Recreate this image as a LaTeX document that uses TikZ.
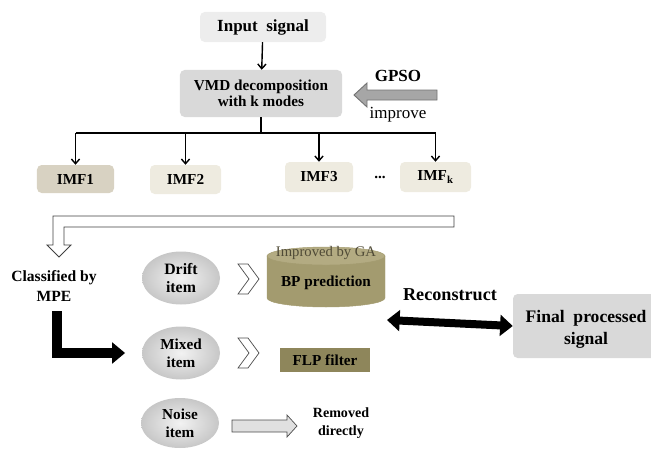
\documentclass[tikz,border=0pt]{standalone}
\usepackage{fontspec}
\setmainfont{Liberation Serif}
\usetikzlibrary{shapes.geometric,arrows.meta,positioning}
\definecolor{inputgray}{HTML}{EDEDED}
\definecolor{boxgray}{HTML}{D9D9D9}
\definecolor{imfdark}{HTML}{D8D2C2}
\definecolor{imflight}{HTML}{EEEBE0}
\definecolor{olive}{HTML}{A39B6F}
\definecolor{olivetop}{HTML}{B3AB82}
\definecolor{olivedark}{HTML}{8E865B}
\definecolor{gatext}{HTML}{4F4A36}
\definecolor{arrgray}{HTML}{A6A6A6}
\newcommand{\fs}[1]{\fontsize{#1}{#1}\selectfont}
\tikzstyle{box}=[rounded corners=4pt,align=center,inner sep=0pt,font=\bfseries\fs{13}]
\tikzstyle{item}=[ellipse,inner sep=0pt,align=center,minimum width=2.34cm,minimum height=1.59cm,
  inner color=white!95!black,outer color=black!22,font=\bfseries\fs{13}]
\tikzstyle{lbl}=[align=center,inner sep=0pt,font=\bfseries\fs{13}]
\tikzstyle{thin}=[line width=1.2pt,-{Straight Barb[length=4pt,width=7pt]}]

\begin{document}
\begin{tikzpicture}[x=0.03cm,y=-0.03cm]
	\useasboundingbox (0,0) rectangle (651,451);
	\node[box,fill=inputgray,minimum width=3.78cm,minimum height=0.9cm,font=\bfseries\fs{14.5}] (0) at (263,27) {Input\ \ signal};
	\node[box,fill=boxgray,minimum width=4.86cm,minimum height=1.41cm] (1) at (261,93.5) {VMD decomposition\\[1pt]with k modes};
	\node[box,fill=imfdark,minimum width=2.31cm,minimum height=0.84cm] (2) at (75.5,179) {IMF1};
	\node[box,fill=imflight,minimum width=2.13cm,minimum height=0.87cm] (3) at (185.5,179.5) {IMF2};
	\node[box,fill=imflight,minimum width=2.04cm,minimum height=0.9cm] (4) at (319,177) {IMF3};
	\node[box,fill=imflight,minimum width=2.13cm,minimum height=0.9cm] (5) at (435.5,177) {IMF$_{\mathbf{k}}$};
	\node[lbl] (6) at (380,177) {...};
	\node[lbl,font=\bfseries\fs{14.5}] (7) at (398,76) {GPSO};
	\node[lbl,font=\fs{14.5}] (8) at (398,115) {improve};
	\node[lbl,font=\bfseries\fs{13.3}] (9) at (54,286) {Classified by\\[3pt]MPE};
	\node[item,font=\bfseries\fs{13.5}] (10) at (181,278) {Drift\\[2pt]item};
	\node[item] (11) at (181,353) {Mixed\\[2pt]item};
	\node[item,minimum height=1.5cm] (12) at (180,423) {Noise\\[2pt]item};
	\node[box,rounded corners=0pt,fill=olivedark,minimum width=2.7cm,minimum height=0.72cm] (13) at (325,360) {FLP filter};
	\node[lbl,font=\bfseries\fs{12}] (14) at (341,423) {Removed\\[3pt]directly};
	\node[lbl,font=\bfseries\fs{15.5}] (15) at (450,295) {Reconstruct};
	\node[box,fill=boxgray,minimum width=4.41cm,minimum height=1.92cm] (16) at (586.5,326) {};
	\node[lbl,font=\bfseries\fs{15}] (17) at (586,329) {Final\ \ processed\\[4pt]signal};
	\coordinate (bus) at (261,133);
	\coordinate (rc) at (387,320);

	\draw[thin] (0) -- (1);
	\draw[line width=1.2pt] (1) -- (bus);
	\draw[line width=1.2pt] (2.north |- bus) -- (5.north |- bus);
	\foreach \n in {2,3,4,5}
		\draw[thin] (\n.north |- bus) -- (\n);

	\draw[draw=black!55,fill=arrgray,line width=0.8pt] (437,90) -- (367,90) -- (367,83) -- (354,95) -- (367,107) -- (367,100) -- (437,100) -- cycle;

	\draw[draw=black!75,fill=white,line width=0.8pt] (454,216) -- (53,216) -- (53,245) -- (47,245) -- (59,257) -- (71,245) -- (64,245) -- (64,227) -- (454,227) -- cycle;

	\draw[line width=0.3cm,shorten <=0.3cm,-{Triangle[length=0.39cm,width=0.62cm]}] ([xshift=0.08cm]9.south) |- ([xshift=-0.5cm]11.west);

	\draw[fill=olive,draw=olive] (267,256) -- (267,298) arc[start angle=180,end angle=0,x radius=59,y radius=9] -- (385,256) -- cycle;
	\draw[fill=olivetop,draw=olive] (326,256) ellipse[x radius=59,y radius=9];
	\node[lbl,font=\fs{12.5},text=gatext] (18) at (326,253) {Improved by GA};
	\node[lbl] (19) at (326,283) {BP prediction};

	\foreach \y in {279,353}
		\draw[draw=black!70,fill=white,line width=0.6pt] (238,\y-15) -- (248,\y-15) -- (259,\y) -- (248,\y+15) -- (238,\y+15) -- (249,\y) -- cycle;

	\draw[draw=black!70,fill=black!12,line width=0.6pt] (232,420) -- (287,420) -- (287,415) -- (297,426) -- (287,437) -- (287,432) -- (232,432) -- cycle;

	\draw[line width=0.24cm,{Triangle[length=0.38cm,width=0.62cm]}-{Triangle[length=0.38cm,width=0.62cm]}] (rc) -- (16.west);
\end{tikzpicture}
\end{document}
